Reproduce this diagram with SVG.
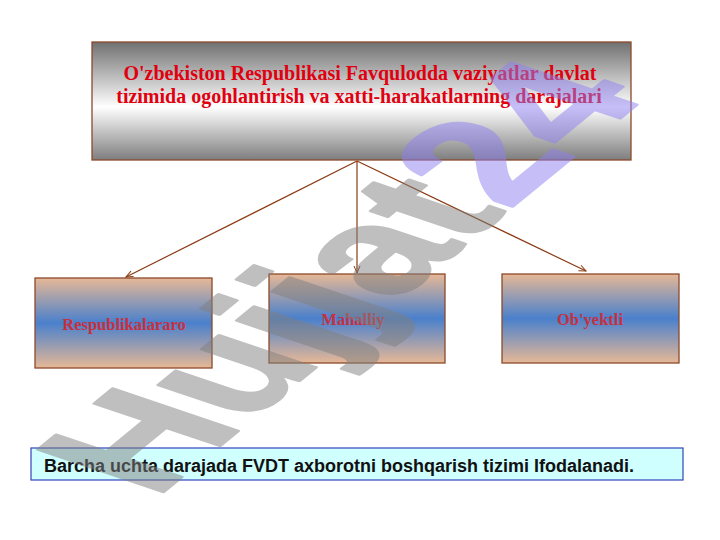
<svg xmlns="http://www.w3.org/2000/svg" width="720" height="540" viewBox="0 0 720 540">
<defs>
<linearGradient id="gTop" x1="0" y1="0" x2="0" y2="1">
<stop offset="0" stop-color="#707070"/>
<stop offset="0.55" stop-color="#ffffff"/>
<stop offset="1" stop-color="#7e7e7e"/>
</linearGradient>
<linearGradient id="gNode" x1="0" y1="0" x2="0" y2="1">
<stop offset="0" stop-color="#e6b896"/>
<stop offset="0.5" stop-color="#4a80cc"/>
<stop offset="1" stop-color="#e6b896"/>
</linearGradient>
<marker id="arr" markerWidth="10" markerHeight="10" refX="8" refY="4" orient="auto" markerUnits="userSpaceOnUse">
<path d="M1,1 L8,4 L1,7" fill="none" stroke="#8b3a12" stroke-width="1"/>
</marker>
</defs>
<style>
.box{stroke:#8b4a2b;stroke-width:1.3}
.title{font-family:"Liberation Serif","Times New Roman",serif;font-weight:bold;font-size:20px;fill:#e00010;text-anchor:middle}
.lbl{font-family:"Liberation Serif","Times New Roman",serif;font-weight:bold;font-size:16.5px;fill:#c8303e;text-anchor:middle}
.conn{stroke:#8b3a12;stroke-width:1.2;fill:none}
.wm{font-family:"Liberation Sans",Arial,sans-serif;font-weight:bold;font-size:165px;stroke-width:3;stroke-linejoin:round}
</style>
<rect width="720" height="540" fill="#ffffff"/>
<g id="node-top">
<rect class="box" x="92" y="42" width="539" height="118" fill="url(#gTop)"/>
<text class="title" x="360" y="80">O'zbekiston Respublikasi Favqulodda vaziyatlar davlat</text>
<text class="title" x="359" y="103">tizimida ogohlantirish va xatti-harakatlarning darajalari</text>
</g>
<g id="node-respublikalararo">
<rect class="box" x="35" y="278" width="177" height="90" fill="url(#gNode)"/>
<text class="lbl" x="124" y="330">Respublikalararo</text>
</g>
<g id="node-mahalliy">
<rect class="box" x="269" y="274" width="176" height="89" fill="url(#gNode)"/>
<text class="lbl" x="353" y="325">Mahalliy</text>
</g>
<g id="node-obyektli">
<rect class="box" x="502" y="274" width="177" height="89" fill="url(#gNode)"/>
<text class="lbl" x="590" y="325">Ob'yektli</text>
</g>
<g id="connectors">
<line class="conn" x1="357" y1="161" x2="126" y2="277" marker-end="url(#arr)"/>
<line class="conn" x1="357" y1="161" x2="357" y2="273" marker-end="url(#arr)"/>
<line class="conn" x1="357" y1="161" x2="586" y2="271" marker-end="url(#arr)"/>
</g>
<g id="note">
<rect x="31" y="448" width="652" height="32" fill="#cfffff" stroke="#3344bb" stroke-width="1.2"/>
<text x="44" y="472" font-family="'Liberation Sans',Arial,sans-serif" font-weight="bold" font-size="18" fill="#111111">Barcha uchta darajada FVDT axborotni boshqarish tizimi Ifodalanadi.</text>
</g>
<g id="watermark" opacity="0.5">
<text class="wm" transform="matrix(0.77,-0.63,1.106,0.374,155,499)"><tspan fill="#808080" stroke="#808080">Hujjat</tspan><tspan fill="#8f80f0" stroke="#8f80f0">24</tspan></text>
</g>
</svg>
